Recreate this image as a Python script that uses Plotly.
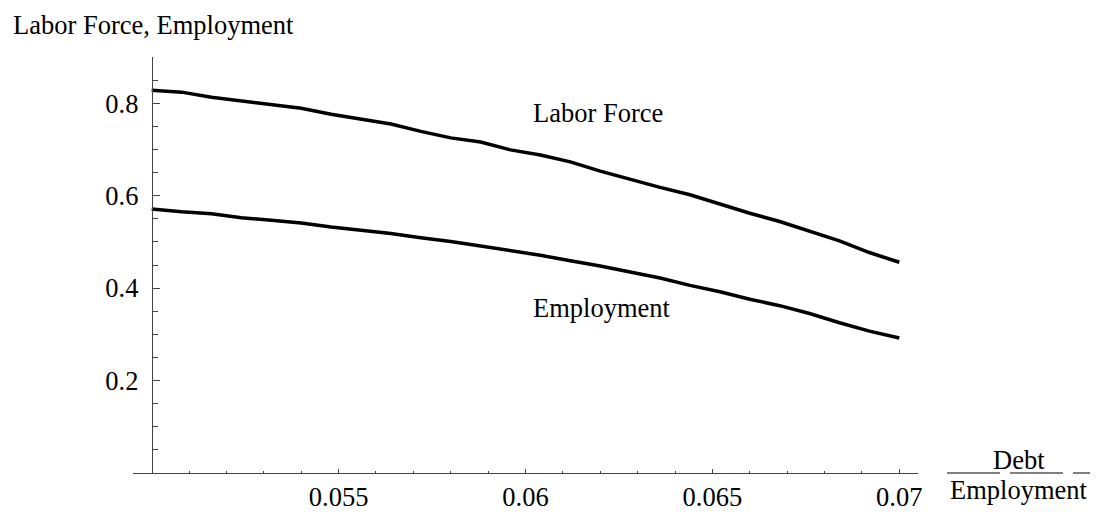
import plotly.graph_objects as go

# Debt / Employment ratio (x)
debt_ratio = [0.0500, 0.0508, 0.0516, 0.0524, 0.0532, 0.0540, 0.0548, 0.0556,
              0.0564, 0.0572, 0.0580, 0.0588, 0.0596, 0.0604, 0.0612, 0.0620,
              0.0628, 0.0636, 0.0644, 0.0652, 0.0660, 0.0668, 0.0676, 0.0684,
              0.0692, 0.0700]

labor_force = [0.828, 0.824, 0.813, 0.805, 0.797, 0.789, 0.776, 0.765,
               0.755, 0.739, 0.725, 0.716, 0.699, 0.688, 0.673, 0.653,
               0.635, 0.618, 0.602, 0.582, 0.562, 0.544, 0.523, 0.502,
               0.477, 0.456]

employment = [0.571, 0.565, 0.561, 0.552, 0.547, 0.541, 0.532, 0.525,
              0.518, 0.509, 0.501, 0.491, 0.481, 0.471, 0.459, 0.448,
              0.435, 0.422, 0.406, 0.392, 0.376, 0.362, 0.345, 0.325,
              0.307, 0.292]

x_ticks = [0.055, 0.06, 0.065, 0.07]
x_tick_text = ["0.055", "0.06", "0.065", "0.07"]
x_minor = [0.051, 0.052, 0.053, 0.054, 0.056, 0.057, 0.058, 0.059,
           0.061, 0.062, 0.063, 0.064, 0.066, 0.067, 0.068, 0.069]
y_ticks = [0.2, 0.4, 0.6, 0.8]
y_tick_text = ["0.2", "0.4", "0.6", "0.8"]
y_minor = [0.05, 0.1, 0.15, 0.25, 0.3, 0.35, 0.45, 0.5, 0.55,
           0.65, 0.7, 0.75, 0.85]

FONT = "Liberation Serif"
FS = 26.5
AX = "#444444"

fig = go.Figure()
fig.add_trace(go.Scatter(x=debt_ratio, y=labor_force, mode="lines",
                         line=dict(color="black", width=3.5), name="Labor Force"))
fig.add_trace(go.Scatter(x=debt_ratio, y=employment, mode="lines",
                         line=dict(color="black", width=3.5), name="Employment"))

x0, x1 = 0.0495, 0.0705
fig.update_layout(
    template="none",
    width=1099, height=512,
    margin=dict(l=133, r=181, t=57, b=39, pad=0),
    paper_bgcolor="white", plot_bgcolor="white",
    showlegend=False,
    font=dict(family=FONT, size=FS, color="black"),
    xaxis=dict(
        range=[x0, x1], showgrid=False, zeroline=False, automargin=False,
        showline=True, linecolor=AX, linewidth=1,
        tickmode="array", tickvals=x_ticks, ticktext=x_tick_text,
        ticks="inside", ticklen=4, tickcolor=AX, tickwidth=1,
        minor=dict(tickmode="array", tickvals=x_minor, ticks="inside",
                   ticklen=2.5, tickcolor=AX, tickwidth=1, showgrid=False),
        tickfont=dict(family=FONT, size=FS, color="black"),
        ticklabelstandoff=0,
    ),
    yaxis=dict(
        range=[0, 0.9], showgrid=False, zeroline=False, automargin=False,
        anchor="free", position=(0.05 - x0) / (x1 - x0),
        showline=True, linecolor=AX, linewidth=1,
        tickmode="array", tickvals=y_ticks, ticktext=y_tick_text,
        ticks="inside", ticklen=7.5, tickcolor=AX, tickwidth=1,
        minor=dict(tickmode="array", tickvals=y_minor, ticks="inside",
                   ticklen=5.5, tickcolor=AX, tickwidth=1, showgrid=False),
        tickfont=dict(family=FONT, size=FS, color="black"),
        ticklabelstandoff=8,
    ),
)

def px_x(px):
    return (px - 133) / 785.0

def px_y(py):
    return (473.5 - py) / 416.5

annotations = [
    dict(text="Labor Force, Employment", xref="paper", yref="paper",
         x=px_x(11), y=px_y(25), xanchor="left", yanchor="middle", showarrow=False),
    dict(text="Labor Force", xref="x", yref="y", x=0.06015, y=0.779,
         xanchor="left", yanchor="middle", showarrow=False),
    dict(text="Employment", xref="x", yref="y", x=0.06015, y=0.357,
         xanchor="left", yanchor="middle", showarrow=False),
    dict(text="Debt", xref="paper", yref="paper", x=px_x(1019), y=px_y(460),
         xanchor="center", yanchor="middle", showarrow=False),
    dict(text="Employment", xref="paper", yref="paper", x=px_x(1019), y=px_y(491),
         xanchor="center", yanchor="middle", showarrow=False),
]
fig.update_layout(annotations=annotations)

for a, b in [(947, 1000), (1010, 1063), (1073, 1090)]:
    fig.add_shape(type="line", xref="paper", yref="paper",
                  x0=px_x(a), x1=px_x(b), y0=px_y(473.5), y1=px_y(473.5),
                  line=dict(color="black", width=1))

post = """
document.body.style.margin='0';
document.body.style.padding='0';
document.documentElement.style.overflow='hidden';
document.body.style.overflow='hidden';
"""
fig.write_html("out.html", post_script=post, config={"displayModeBar": False})
